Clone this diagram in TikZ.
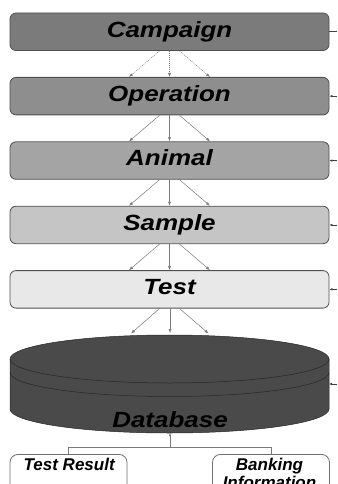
\documentclass[tikz,border=0pt]{standalone}
\usepackage{fontspec}
\usepackage{graphicx}
\setmainfont{Liberation Sans}
\usetikzlibrary{arrows.meta,calc}

\definecolor{campfill}{HTML}{7B7B7B}
\definecolor{opfill}{HTML}{8E8E8E}
\definecolor{animfill}{HTML}{A4A4A4}
\definecolor{sampfill}{HTML}{C5C5C5}
\definecolor{testfill}{HTML}{E8E8E8}
\definecolor{dbfill}{HTML}{4A4A4A}
\definecolor{boxedge}{HTML}{505050}
\definecolor{linkgray}{HTML}{7A7A7A}
\definecolor{leafedge}{HTML}{6F6F6F}

\newcommand\bigfont{\fontsize{22}{26}\selectfont\bfseries\itshape}
\newcommand\smallfont{\fontsize{17}{20}\selectfont\bfseries\itshape}
\newcommand\wide[1]{\scalebox{1.18}[1]{#1}}

\tikzset{
  level/.style={draw=boxedge, line width=0.8pt, rounded corners=6pt,
    minimum width=319pt, minimum height=37.5pt, inner sep=0pt,
    text height=16pt, text depth=5.4pt, font=\bigfont},
  link/.style={draw=linkgray, line width=0.5pt, -{Latex[length=4pt,width=3pt]}},
  firstlink/.style={link, dash pattern=on 1pt off 1pt},
  feed/.style={draw=black!75, line width=0.5pt, -{Latex[length=3pt,width=2.5pt]}},
  bracket/.style={draw=linkgray, line width=0.6pt},
  leafbox/.style={draw=leafedge, fill=white, line width=0.8pt, rounded corners=8pt,
    minimum width=117pt, minimum height=50pt, inner sep=0pt, anchor=north},
  leaftext/.style={font=\smallfont, inner sep=0pt, anchor=base},
  dbline/.style={draw=black!85, line width=0.5pt},
}

\begin{document}
\begin{tikzpicture}[x=1pt, y=-1pt]
  \useasboundingbox (0,0) rectangle (337,484);
  \clip (0,0) rectangle (337,484);

  % stacked levels
  \node[level, fill=campfill] (camp) at (169.5, 31.75)  {\wide{Campaign}};
  \node[level, fill=opfill]   (op)   at (169.5, 96.15)  {\wide{Operation}};
  \node[level, fill=animfill] (anim) at (169.5, 160.55) {\wide{Animal}};
  \node[level, fill=sampfill] (samp) at (169.5, 224.95) {\wide{Sample}};
  \node[level, fill=testfill] (test) at (169.5, 289.35) {\wide{Test}};

  % database cylinder
  \fill[dbfill] (10,359) -- (10,409)
    arc[start angle=180, end angle=0, x radius=159.5, y radius=24]
    -- (329,359)
    arc[start angle=0, end angle=-180, x radius=159.5, y radius=24] -- cycle;
  \draw[dbline] (10,359) arc[start angle=180, end angle=0, x radius=159.5, y radius=24];
  \draw[dbline] (10,372.5) arc[start angle=180, end angle=0, x radius=159.5, y radius=24];
  \draw[dbline] (10,359) -- (10,409)
    arc[start angle=180, end angle=0, x radius=159.5, y radius=24]
    -- (329,359)
    arc[start angle=0, end angle=-180, x radius=159.5, y radius=24];
  \node[font=\bigfont, inner sep=0pt, anchor=base] (db) at (170, 427) {\wide{Database}};

  \coordinate (dbL) at (131, 333.5);
  \coordinate (dbM) at (170, 333);
  \coordinate (dbR) at (208.5, 333.5);
  \coordinate (dbS) at (170, 433);
  \coordinate (dbE) at (329, 384);

  % downward links between levels
  \foreach \a/\b/\s in {camp/op/firstlink, op/anim/link, anim/samp/link, samp/test/link} {
    \draw[\s] ($(\a.south)+(-10,0)$) -- ($(\b.north)+(-40.5,0)$);
    \draw[\s] (\a.south) -- (\b.north);
    \draw[\s] ($(\a.south)+(10,0)$) -- ($(\b.north)+(40.5,0)$);
  }
  \draw[link] ($(test.south)+(-10,0)$) -- (dbL);
  \draw[link] ($(test.south)+(0.5,0)$) -- (dbM);
  \draw[link] ($(test.south)+(10,0)$) -- (dbR);

  % feeds entering from the right
  \coordinate (rC) at (337, 31.75);
  \draw[draw=black!75, line width=0.5pt] (camp.east) -- (rC);
  \foreach \n in {op, anim, samp, test} {
    \draw[feed] ($(\n.east)+(8,0)$) -- (\n.east);
  }
  \coordinate (rDB) at (337, 384);
  \draw[feed] (rDB) -- (dbE);

  % outputs below the database
  \node[leafbox] (res)  at (68.5, 454) {};
  \node[leafbox] (bank) at (271, 454) {};
  \node[leaftext] (res-t)  at (69.2, 470.5) {Test Result};
  \node[leaftext] (bank-t) at (269.5, 470.5) {Banking};
  \node[leaftext] (bank-u) at (269.5, 488.5) {Information};

  \coordinate (join) at (170, 447);
  \draw[bracket] (res.north) -- (68.5,447) -- (271,447) -- (bank.north);
  \draw[bracket, -{Latex[length=3pt,width=2.5pt]}] (join) -- (dbS);
\end{tikzpicture}
\end{document}
